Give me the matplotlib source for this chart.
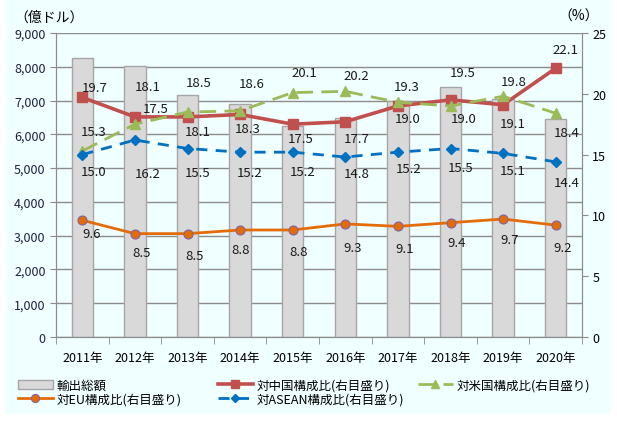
import matplotlib.pyplot as plt
from matplotlib.patches import Rectangle
import numpy as np

plt.rcParams['font.family'] = ['Noto Sans CJK JP', 'DejaVu Sans']

years = ['2011年', '2012年', '2013年', '2014年', '2015年',
         '2016年', '2017年', '2018年', '2019年', '2020年']
exports = [8250, 8010, 7150, 6910, 6260, 6480, 6990, 7390, 7060, 6440]
china = [19.7, 18.1, 18.1, 18.3, 17.5, 17.7, 19.0, 19.5, 19.1, 22.1]
usa = [15.3, 17.5, 18.5, 18.6, 20.1, 20.2, 19.3, 19.0, 19.8, 18.4]
asean = [15.0, 16.2, 15.5, 15.2, 15.2, 14.8, 15.2, 15.5, 15.1, 14.4]
eu = [9.6, 8.5, 8.5, 8.8, 8.8, 9.3, 9.1, 9.4, 9.7, 9.2]

# label offsets in pixels (dx, dy)
china_off = [(12, 10), (13, 30), (10, -15), (8, -14), (8, -14), (11, -17), (10, -13), (12, 27), (10, -19), (10, 19)]
usa_off = [(11, 19), (21, 16), (11, 30), (12, 27), (12, 20), (11, 16), (9, 16), (13, -13), (11, 15), (11, -19)]
asean_off = [(11, -17), (13, -33), (10, -24), (10, -20), (10, -19), (11, -16), (11, -16), (10, -19), (10, -17), (11, -21)]
eu_off = [(9, -13), (7, -19), (7, -22), (1, -20), (6, -22), (7, -24), (7, -22), (6, -20), (7, -20), (7, -22)]

bg = '#F0FFFF'
fig = plt.figure(figsize=(6.17, 4.27), dpi=100, facecolor='white')
fig.patches.append(Rectangle((5 / 617, 12 / 427), 606 / 617, 415 / 427,
                             transform=fig.transFigure, facecolor=bg,
                             edgecolor='none', zorder=-10))

ax = fig.add_axes([56 / 617, 89 / 427, 526 / 617, 304 / 427])
ax.set_facecolor(bg)
x = np.arange(len(years))

bars = ax.bar(x, exports, width=0.41, color='#D9D9D9', edgecolor='#A6A6A6',
              linewidth=1, zorder=2)
ax.set_ylim(0, 9000)
ax.set_xlim(-0.5, len(years) - 0.5)
ax.set_yticks(range(0, 9001, 1000))
ax.set_yticklabels([f'{v:,}' for v in range(0, 9001, 1000)], fontsize=9, color='#1F1F3F')
ax.yaxis.grid(True, color='#8C8C8C', linewidth=1, zorder=0)
ax.set_axisbelow(True)
ax.set_xticks(x)
ax.set_xticklabels(years, fontsize=9)
ax.set_xticks(np.arange(-0.5, len(years), 1), minor=True)
ax.tick_params(axis='x', which='major', length=0, pad=10)
ax.tick_params(axis='x', which='minor', length=5, color='#8C8C8C')
ax.tick_params(axis='y', length=4, color='#8C8C8C')
for s in ax.spines.values():
    s.set_color('#8C8C8C')
ax.spines['top'].set_visible(False)

ax2 = ax.twinx()
ax2.set_ylim(0, 25)
ax2.set_yticks(range(0, 26, 5))
ax2.tick_params(axis='y', labelsize=9, length=4, color='#8C8C8C')
for s in ax2.spines.values():
    s.set_color('#8C8C8C')
ax2.spines['top'].set_visible(False)

l_china, = ax2.plot(x, china, color='#C0504D', lw=2.6, marker='s', ms=6.5, zorder=4)
l_usa, = ax2.plot(x, usa, color='#9BBB59', lw=2, ls=(0, (6, 3)), marker='^', ms=7, zorder=4)
l_asean, = ax2.plot(x, asean, color='#0070C0', lw=2, ls=(0, (4, 3)), marker='D', ms=5, zorder=4)
l_eu, = ax2.plot(x, eu, color='#E36C09', lw=2, marker='o', ms=6.5,
                 markeredgecolor='#8064A2', markeredgewidth=0.8, zorder=4)

for vals, offs in [(china, china_off), (usa, usa_off), (asean, asean_off), (eu, eu_off)]:
    for i, v in enumerate(vals):
        ax2.annotate(f'{v:.1f}', (x[i], v), xytext=offs[i], textcoords='offset pixels',
                     ha='center', va='center', fontsize=9.5, color='#1A1A1A', zorder=5)

fig.text(14 / 617, 1 - 18 / 427, '（億ドル）', fontsize=10, va='center', ha='left')
fig.text(579 / 617, 1 - 17 / 427, '（%）', fontsize=10, va='center', ha='center')

# legend, one block per column
columns = [
    ([bars, l_eu], ['輸出総額', '対EU構成比(右目盛り)'], 15),
    ([l_china, l_asean], ['対中国構成比(右目盛り)', '対ASEAN構成比(右目盛り)'], 215),
    ([l_usa], ['対米国構成比(右目盛り)'], 415),
]
for handles, labels, px in columns:
    lg = fig.legend(handles, labels, loc='upper left',
                    bbox_to_anchor=(px / 617, 1 - 377 / 427),
                    frameon=False, fontsize=9, handlelength=2.8, handletextpad=0.3,
                    labelspacing=0.05, borderaxespad=0, borderpad=0.2, markerscale=0.9)

fig.savefig('out.png', dpi=100, facecolor='white')
